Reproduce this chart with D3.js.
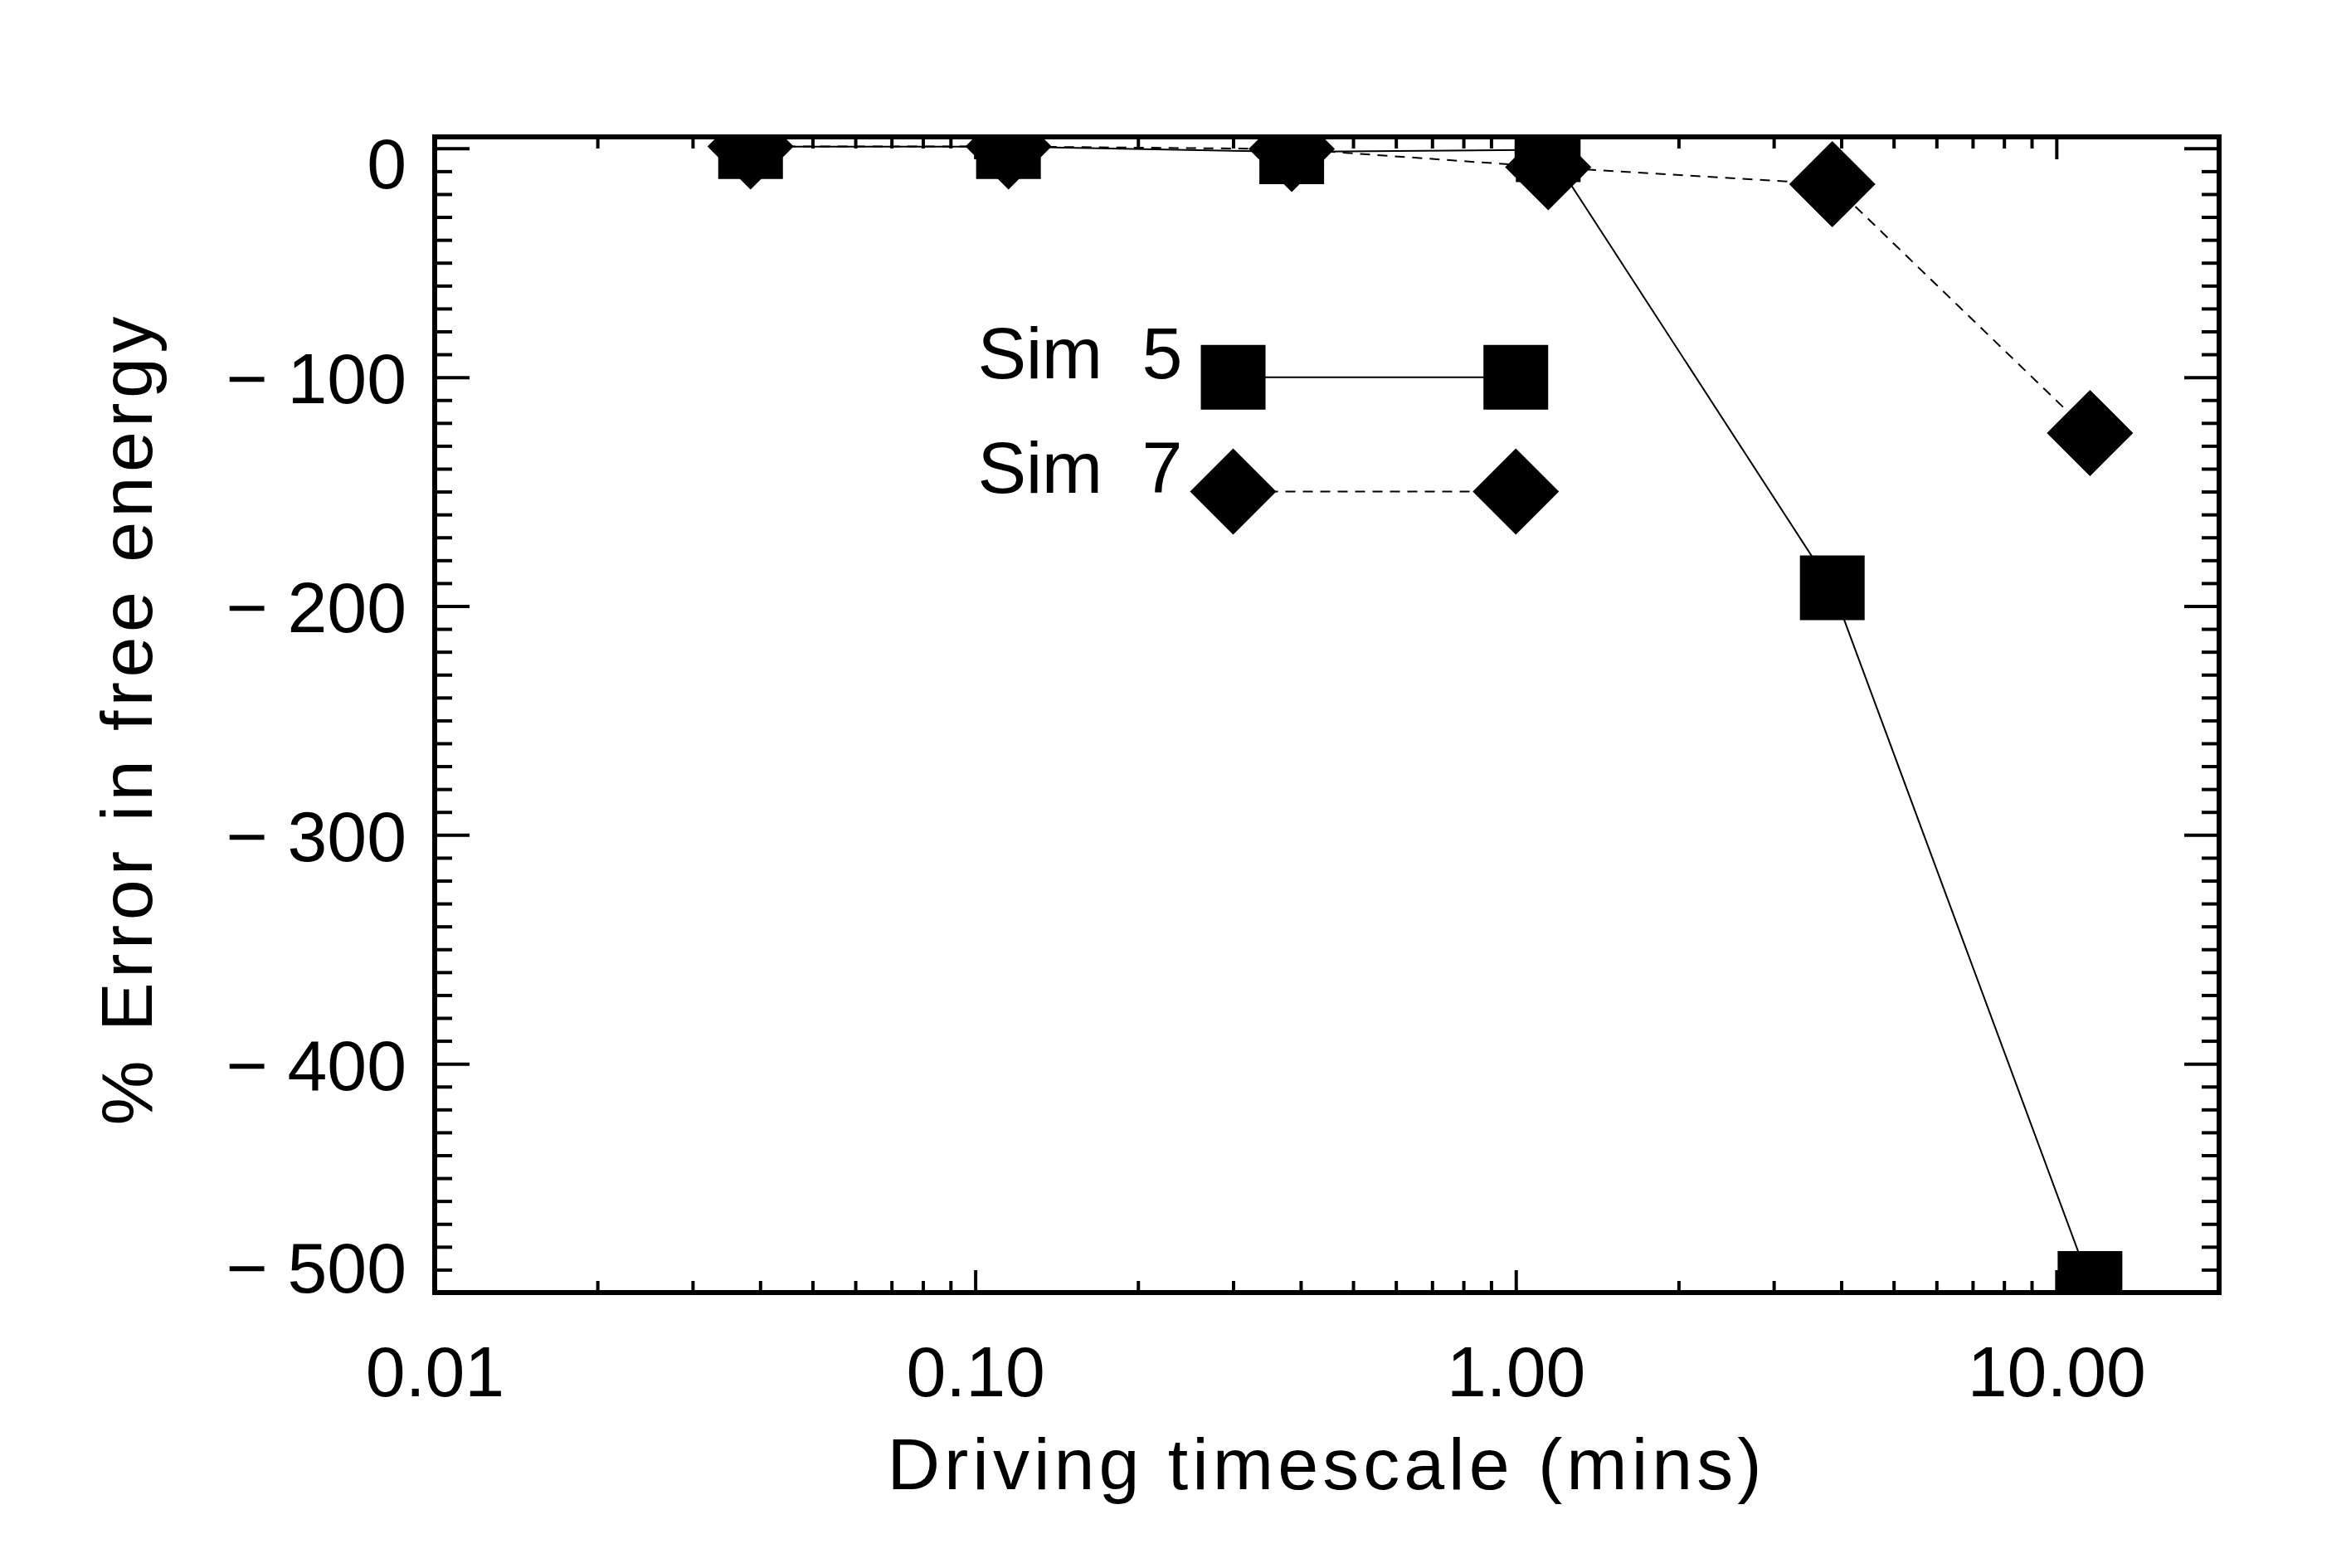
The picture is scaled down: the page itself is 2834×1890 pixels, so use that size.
<!DOCTYPE html>
<html>
<head>
<meta charset="utf-8">
<script src="https://cdn.jsdelivr.net/npm/d3@7"></script>
<style>
  html, body { margin: 0; padding: 0; background: #fff; }
  text { font-family: "Liberation Sans", Arial, sans-serif; fill: #000; }
</style>
</head>
<body>
<div id="chart"></div>
<script>
// data
const timescale = [0.0384, 0.1152, 0.385, 1.148, 3.85, 11.54];
const sim5Error = [0.7, 0.7, -1.5, -0.6, -192, -496];
const sim7Error = [0.8, 0.8, -0.3, -8.2, -15.7, -124.4];

const xMajorTicks = [0.01, 0.1, 1, 10];
const xTickLabels = ["0.01", "0.10", "1.00", "10.00"];
const yMajorTicks = [0, -100, -200, -300, -400, -500];
const yTickLabels = ["0", "\u2212\u00a0100", "\u2212\u00a0200", "\u2212\u00a0300", "\u2212\u00a0400", "\u2212\u00a0500"];

const legendNames = ["Sim\u00a0\u00a05", "Sim\u00a0\u00a07"];
const legendX = [0.3, 1.0];
const legendY = [-100, -150];

const W = 2834, H = 1890;
const pLeft = 524, pRight = 2675, pTop = 165, pBottom = 1558;

const svg = d3.select("#chart").append("svg")
    .attr("width", W).attr("height", H)
    .style("background", "#fff");

const x = d3.scaleLog().domain([0.01, 20]).range([pLeft, pRight]);
const y = d3.scaleLinear().domain([-500, 5]).range([pBottom, pTop]);

// minor ticks
const xMinor = [];
[0.01, 0.1, 1, 10].forEach(d => {
    for (let k = 2; k <= 9; k++) if (d * k <= 20) xMinor.push(d * k);
});
const yMinor = d3.range(0, -501, -10).filter(v => v % 100 !== 0);

function styleAxis(g) {
    g.select(".domain").remove();
    g.selectAll("line").attr("stroke", "#000").attr("stroke-width", 4);
    g.attr("font-size", 86).attr("font-family", null);
}

// y axis left
svg.append("g").attr("transform", `translate(${pLeft},0)`)
    .call(d3.axisLeft(y).tickValues(yMinor).tickSize(-21).tickFormat(""))
    .call(styleAxis);
const yAxisG = svg.append("g").attr("transform", `translate(${pLeft},0)`)
    .call(d3.axisLeft(y).tickValues(yMajorTicks).tickSize(-42).tickPadding(34)
        .tickFormat((d, i) => yTickLabels[i]))
    .call(styleAxis);
// keep labels inside the axis extent like the original
yAxisG.selectAll(".tick").each(function(d) {
    const ty = y(d);
    const c = Math.max(pTop + 31, Math.min(pBottom - 31, ty));
    d3.select(this).select("text").attr("y", c - ty).attr("dy", "0.36em");
});

// y axis right
svg.append("g").attr("transform", `translate(${pRight},0)`)
    .call(d3.axisRight(y).tickValues(yMinor).tickSize(-21).tickFormat(""))
    .call(styleAxis);
svg.append("g").attr("transform", `translate(${pRight},0)`)
    .call(d3.axisRight(y).tickValues(yMajorTicks).tickSize(-42).tickFormat(""))
    .call(styleAxis);

// x axis bottom
svg.append("g").attr("transform", `translate(0,${pBottom})`)
    .call(d3.axisBottom(x).tickValues(xMinor).tickSize(-14).tickFormat(""))
    .call(styleAxis);
svg.append("g").attr("transform", `translate(0,${pBottom})`)
    .call(d3.axisBottom(x).tickValues(xMajorTicks).tickSize(-27).tickPadding(0)
        .tickFormat((d, i) => xTickLabels[i]))
    .call(styleAxis)
    .selectAll("text").attr("y", 125).attr("dy", null);

// x axis top
svg.append("g").attr("transform", `translate(0,${pTop})`)
    .call(d3.axisTop(x).tickValues(xMinor).tickSize(-14).tickFormat(""))
    .call(styleAxis);
svg.append("g").attr("transform", `translate(0,${pTop})`)
    .call(d3.axisTop(x).tickValues(xMajorTicks).tickSize(-27).tickFormat(""))
    .call(styleAxis);

// frame
svg.append("rect")
    .attr("x", pLeft).attr("y", pTop)
    .attr("width", pRight - pLeft).attr("height", pBottom - pTop)
    .attr("fill", "none").attr("stroke", "#000").attr("stroke-width", 6);

// axis titles
svg.append("text")
    .attr("x", (pLeft + pRight) / 2 - 3).attr("y", 1795)
    .attr("text-anchor", "middle").attr("font-size", 88)
    .attr("textLength", 1054).attr("lengthAdjust", "spacing")
    .text("Driving timescale (mins)");
svg.append("text")
    .attr("transform", "translate(183,869) rotate(-90)")
    .attr("text-anchor", "middle").attr("font-size", 88)
    .attr("textLength", 975).attr("lengthAdjust", "spacing")
    .text("% Error in free energy");

// plot contents
svg.append("clipPath").attr("id", "plotclip")
    .append("rect").attr("x", pLeft).attr("y", pTop)
    .attr("width", pRight - pLeft).attr("height", pBottom - pTop);
const plot = svg.append("g").attr("clip-path", "url(#plotclip)");

const squarePath = "M-39,-39H39V39H-39Z";
const diamondPath = "M0,-52L52,0L0,52L-52,0Z";

const sim5 = timescale.map((t, i) => ({ t, v: sim5Error[i] }));
const sim7 = timescale.map((t, i) => ({ t, v: sim7Error[i] }));
const line = d3.line().x(d => x(d.t)).y(d => y(d.v));

plot.append("path").datum(sim5).attr("d", line)
    .attr("fill", "none").attr("stroke", "#000").attr("stroke-width", 2);
plot.append("path").datum(sim7).attr("d", line)
    .attr("fill", "none").attr("stroke", "#000").attr("stroke-width", 2)
    .attr("stroke-dasharray", "12,9");

plot.selectAll(".sq").data(sim5).enter().append("path")
    .attr("class", "sq")
    .attr("transform", d => `translate(${x(d.t)},${y(d.v)})`)
    .attr("d", squarePath).attr("fill", "#000");
plot.selectAll(".dm").data(sim7).enter().append("path")
    .attr("class", "dm")
    .attr("transform", d => `translate(${x(d.t)},${y(d.v)})`)
    .attr("d", diamondPath).attr("fill", "#000");

// legend
const legendShapes = [squarePath, diamondPath];
legendNames.forEach((name, i) => {
    const ly = y(legendY[i]);
    const lg = svg.append("g");
    lg.append("line")
        .attr("x1", x(legendX[0])).attr("x2", x(legendX[1]))
        .attr("y1", ly).attr("y2", ly)
        .attr("stroke", "#000").attr("stroke-width", 2)
        .attr("stroke-dasharray", i === 1 ? "12,9" : null);
    legendX.forEach(lx => {
        lg.append("path")
            .attr("transform", `translate(${x(lx)},${ly})`)
            .attr("d", legendShapes[i]).attr("fill", "#000");
    });
    lg.append("text")
        .attr("x", x(legendX[0]) - 61).attr("y", ly + 1)
        .attr("text-anchor", "end").attr("font-size", 88)
        .attr("textLength", 247).attr("lengthAdjust", "spacing")
        .text(name);
});
</script>
</body>
</html>
